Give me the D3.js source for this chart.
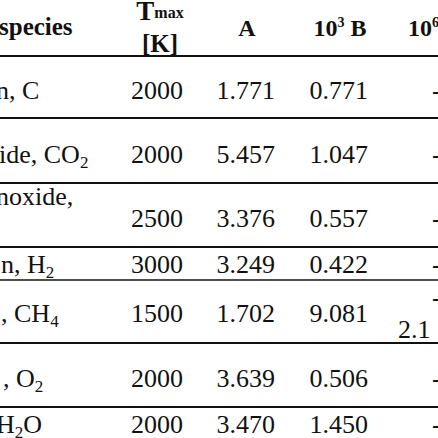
<!DOCTYPE html><html><head><meta charset="utf-8"><script src="https://cdn.jsdelivr.net/npm/d3@7"></script>
<style>body{margin:0;background:#fff}svg{display:block}</style></head><body><svg id="c" width="438" height="438"></svg>
<script>
const species=[["n, C"],["ide, CO","2"],["noxide,"],["n, H","2"],[", CH","4"],[", O","2"],["H","2","O"]];
const tmax=["2000","2000","2500","3000","1500","2000","2000"];
const colA=["1.771","5.457","3.376","3.249","1.702","3.639","3.470"];
const colB=["0.771","1.047","0.557","0.422","9.081","0.506","1.450"];
const colC=["-","-","-","-","-","-","-"];
const rowEdges=[56,118,183,247,280,343,407,438];
const svg=d3.select("#c");
const font="'Liberation Serif','Times New Roman',serif";
const fs=26;
const x=d3.scaleOrdinal().domain(["sp","T","A","B","C"]).range([-4,183,275,368,408]);
svg.selectAll("line").data(rowEdges.slice(0,-1)).join("line")
 .attr("x1",0).attr("x2",438).attr("y1",d=>d).attr("y2",d=>d)
 .attr("stroke","#111").attr("stroke-width",(d,i)=>i==4?1.5:2);
const g=svg.append("g").style("font-family",font).style("fill","#111");
const h=g.append("g").style("font-weight","bold").style("font-size","24px");
h.append("text").attr("x",-1).attr("y",35).style("font-size","25px").text("species");
const t=h.append("text").attr("x",160).attr("y",20).attr("text-anchor","middle");
t.append("tspan").text("T").style("font-size","27px");t.append("tspan").text("max").style("font-size","16px").attr("dy",-2);
h.append("text").attr("x",160).attr("y",52).attr("text-anchor","middle").style("font-size","25px").text("[K]");
h.append("text").attr("x",247).attr("y",36).attr("text-anchor","middle").text("A");
const b=h.append("text").attr("x",340).attr("y",36).attr("text-anchor","middle");
b.append("tspan").text("10");b.append("tspan").text("3").style("font-size","14px").attr("dy",-9);b.append("tspan").text(" B").attr("dy",9);
const c=h.append("text").attr("x",408).attr("y",36);
c.append("tspan").text("10");c.append("tspan").text("6").style("font-size","14px").attr("dy",-9);c.append("tspan").text(" C").attr("dy",9);
const mid=i=>(rowEdges[i]+rowEdges[i+1])/2+12;
const spX=[-4,-1,-4,1,1,3,-4];
const rowsG=g.selectAll("g.r").data(d3.range(7)).join("g").attr("class","r").style("font-size",fs+"px");
rowsG.each(function(i){
 const r=d3.select(this);
 let y=mid(i); if(i==2) y=227; if(i==3) y=273; if(i==4) y=322; if(i==6) y=433;
 const s=r.append("text").attr("x",spX[i]).attr("y",i==2?205:y);
 species[i].forEach((p,k)=>{const sp=s.append("tspan").text(p);
   if(/^\d$/.test(p)){sp.style("font-size","17px").attr("dy",5);} else if(k>0){sp.attr("dy",-5);} });
 r.append("text").attr("x",x("T")).attr("y",y).attr("text-anchor","end").text(tmax[i]);
 r.append("text").attr("x",x("A")).attr("y",y).attr("text-anchor","end").text(colA[i]);
 r.append("text").attr("x",x("B")).attr("y",y).attr("text-anchor","end").text(colB[i]);
 r.append("text").attr("x",432).attr("y",i==4?306:y).text(colC[i]);
 if(i==4) r.append("text").attr("x",398).attr("y",338).text("2.1");
});
</script></body></html>
